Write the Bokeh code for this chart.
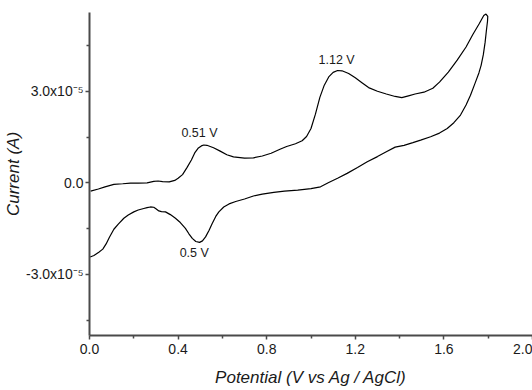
from bokeh.plotting import figure
from bokeh.models import Range1d, FixedTicker, CustomJSTickFormatter, ColumnDataSource
from bokeh.core.properties import value
from bokeh.embed import file_html
from bokeh.resources import INLINE

# Cyclic voltammogram: anodic (forward) and cathodic (return) sweeps
potential_fwd = [0.005, 0.04, 0.07, 0.11, 0.15, 0.185, 0.22, 0.26, 0.29, 0.31, 0.33, 0.36,
                 0.385, 0.40, 0.42, 0.44, 0.46, 0.475, 0.49, 0.505, 0.516, 0.53, 0.56, 0.59,
                 0.62, 0.65, 0.70, 0.74, 0.78, 0.82, 0.86, 0.89, 0.93, 0.96, 0.98, 1.00,
                 1.02, 1.04, 1.06, 1.08, 1.10, 1.12, 1.14, 1.17, 1.20, 1.23, 1.26, 1.30,
                 1.34, 1.38, 1.41, 1.44, 1.47, 1.51, 1.55, 1.58, 1.62, 1.66, 1.70, 1.73,
                 1.76, 1.78, 1.79, 1.798]
current_fwd = [-0.27, -0.20, -0.13, -0.05, -0.03, -0.01, -0.01, 0.00, 0.05, 0.06, 0.04, 0.03,
               0.08, 0.15, 0.27, 0.50, 0.75, 0.98, 1.13, 1.21, 1.24, 1.23, 1.15, 1.04,
               0.92, 0.85, 0.81, 0.82, 0.88, 0.97, 1.10, 1.19, 1.28, 1.38, 1.52, 1.78,
               2.25, 2.80, 3.20, 3.47, 3.62, 3.68, 3.67, 3.58, 3.44, 3.28, 3.12, 3.00,
               2.91, 2.83, 2.79, 2.85, 2.91, 2.97, 3.10, 3.30, 3.63, 4.02, 4.45, 4.85,
               5.22, 5.48, 5.53, 5.45]

potential_rev = [1.798, 1.797, 1.792, 1.786, 1.778, 1.768, 1.758, 1.74, 1.72, 1.70, 1.675,
                 1.645, 1.615, 1.58, 1.54, 1.495, 1.46, 1.42, 1.38, 1.34, 1.30, 1.254,
                 1.21, 1.163, 1.12, 1.08, 1.043, 1.00, 0.94, 0.88, 0.832, 0.78, 0.74, 0.70,
                 0.66, 0.63, 0.606, 0.584, 0.57, 0.554, 0.54, 0.524, 0.51, 0.497, 0.48,
                 0.464, 0.448, 0.433, 0.41, 0.388, 0.365, 0.343, 0.325, 0.313, 0.30, 0.29,
                 0.275, 0.26, 0.245, 0.22, 0.20, 0.175, 0.155, 0.13, 0.11, 0.09, 0.075,
                 0.06, 0.042, 0.02, 0.003]
current_rev = [5.45, 5.30, 5.00, 4.60, 4.20, 3.85, 3.60, 3.25, 2.87, 2.55, 2.22,
               1.97, 1.78, 1.63, 1.51, 1.40, 1.32, 1.23, 1.17, 1.02, 0.86, 0.69,
               0.50, 0.31, 0.15, 0.01, -0.13, -0.19, -0.24, -0.27, -0.31, -0.37, -0.43, -0.53,
               -0.61, -0.69, -0.79, -0.95, -1.10, -1.33, -1.55, -1.77, -1.90, -1.95, -1.92,
               -1.82, -1.66, -1.49, -1.30, -1.16, -1.04, -0.95, -0.94, -0.92, -0.85, -0.80,
               -0.79, -0.81, -0.84, -0.89, -0.95, -1.05, -1.16, -1.35, -1.52, -1.78, -2.00,
               -2.17, -2.27, -2.38, -2.43]

# peak annotations: label, potential (V), current (units of 1e-5 A), pixel offsets
peak_labels = ["0.51 V", "1.12 V", "0.5 V"]
peak_potential = [0.51, 1.12, 0.50]
peak_current = [1.24, 3.68, -1.95]
label_dx = [-3, -1, -6]
label_dy = [-12, -11, 11]

x_ticks = [0.0, 0.4, 0.8, 1.2, 1.6, 2.0]
x_minor = [0.2, 0.6, 1.0, 1.4, 1.8]
y_ticks = [-3.0e-5, 0.0, 3.0e-5]
y_minor = [-4.5e-5, -1.5e-5, 1.5e-5, 4.5e-5]

SCALE = 1e-5
pot = potential_fwd + potential_rev
cur = [c * SCALE for c in current_fwd + current_rev]

p = figure(width=532, height=390, output_backend="svg", toolbar_location=None,
           x_range=Range1d(0.0, 2.0), y_range=Range1d(-5.0e-5, 5.58e-5),
           min_border_left=89, min_border_right=0, min_border_top=12, min_border_bottom=55)
p.outline_line_color = None
p.xgrid.visible = False
p.ygrid.visible = False
p.background_fill_color = "white"
p.border_fill_color = "white"

p.line(pot, cur, line_color="black", line_width=1.2)

src = ColumnDataSource(dict(x=peak_potential, y=[c * SCALE for c in peak_current],
                            t=peak_labels, dx=label_dx, dy=label_dy))
p.text(x="x", y="y", text="t", x_offset="dx", y_offset="dy", source=src,
       text_font=value("Liberation Sans"), text_font_size="12.5px", text_color="#1a1a1a",
       text_align="center", text_baseline="middle")

axis_color = "#4a4a4a"
for ax in (p.xaxis[0], p.yaxis[0]):
    ax.axis_line_color = axis_color
    ax.axis_line_width = 2
    ax.major_tick_line_color = axis_color
    ax.minor_tick_line_color = axis_color
    ax.major_tick_line_width = 1.5
    ax.minor_tick_line_width = 1.5
    ax.major_tick_in = 0
    ax.major_tick_out = 4
    ax.minor_tick_in = 0
    ax.minor_tick_out = 3
    ax.major_label_text_font = "Liberation Sans"
    ax.major_label_text_font_size = "14px"
    ax.major_label_text_color = "#1a1a1a"
    ax.axis_label_text_font = "Liberation Sans"
    ax.axis_label_text_font_style = "italic"
    ax.axis_label_text_font_size = "17px"
    ax.axis_label_text_color = "#1a1a1a"

p.xaxis[0].ticker = FixedTicker(ticks=x_ticks, minor_ticks=x_minor)
p.xaxis[0].formatter = CustomJSTickFormatter(code="return tick.toFixed(1);")
p.xaxis[0].axis_label = "Potential (V vs Ag / AgCl)"
p.xaxis[0].major_label_standoff = 4
p.xaxis[0].axis_label_standoff = 11

p.yaxis[0].ticker = FixedTicker(ticks=y_ticks, minor_ticks=y_minor)
p.yaxis[0].formatter = CustomJSTickFormatter(code="""
    if (Math.abs(tick) < 1e-12) { return "0.0"; }
    return (tick / 1e-5).toFixed(1) + "x10\\u207b\\u2075";
""")
p.yaxis[0].axis_label = "Current (A)"
p.yaxis[0].major_label_standoff = 2
p.yaxis[0].axis_label_standoff = 0

open("out.html", "w").write(file_html(p, INLINE))
